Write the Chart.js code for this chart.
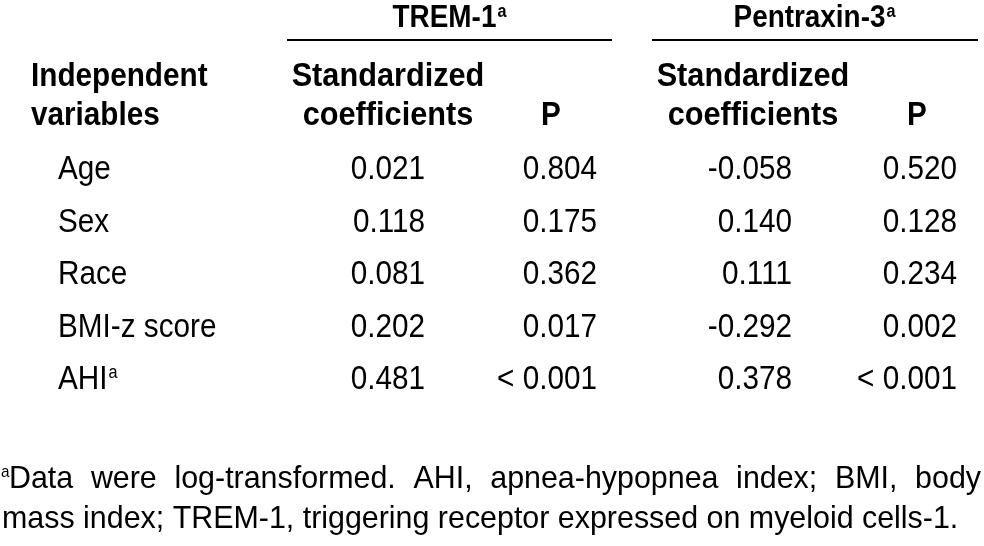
<!DOCTYPE html>
<html>
<head>
<meta charset="utf-8">
<script src="https://cdn.jsdelivr.net/npm/chart.js@4.4.1/dist/chart.umd.min.js"></script>
<style>
  html, body { margin: 0; padding: 0; background: #fff; }
  #tableChart { display: block; }
</style>
</head>
<body>
<canvas id="tableChart" width="984" height="546"></canvas>
<script>
// table data
const variables = ['Age', 'Sex', 'Race', 'BMI-z score', 'AHI'];
const variableNotes = ['', '', '', '', 'a'];
const tremCoef = [0.021, 0.118, 0.081, 0.202, 0.481];
const tremP = ['0.804', '0.175', '0.362', '0.017', '< 0.001'];
const ptxCoef = [-0.058, 0.140, 0.111, -0.292, 0.378];
const ptxP = ['0.520', '0.128', '0.234', '0.002', '< 0.001'];

const groupTitles = ['TREM-1', 'Pentraxin-3'];
const footLine1 = 'Data were log-transformed. AHI, apnea-hypopnea index; BMI, body';
const footLine2 = 'mass index; TREM-1, triggering receptor expressed on myeloid cells-1.';

// layout (pixels on the x scale, which runs 0..984)
const labelX = 58;
const colRight = [425, 597, 792, 957];
const FONT = '"Liberation Sans", Arial, sans-serif';
const SX = 0.9; // the source font is slightly condensed
const FOOT_SX = 0.95;

function txt(ctx, s, x, y, size, bold, align, sx) {
    ctx.save();
    ctx.font = (bold ? 'bold ' : '') + size + 'px ' + FONT;
    ctx.translate(x, y);
    ctx.scale(sx || SX, 1);
    ctx.textAlign = align || 'left';
    ctx.textBaseline = 'alphabetic';
    ctx.fillStyle = '#000';
    ctx.fillText(s, 0, 0);
    ctx.restore();
}

function width(ctx, s, size, bold, sx) {
    ctx.save();
    ctx.font = (bold ? 'bold ' : '') + size + 'px ' + FONT;
    const w = ctx.measureText(s).width * (sx || SX);
    ctx.restore();
    return w;
}

// text with a superscript "a", centered or left anchored
function txtSup(ctx, s, x, y, size, bold, supSize, rise, align) {
    const w = width(ctx, s, size, bold);
    const ws = width(ctx, 'a', supSize, bold);
    let x0 = x;
    if (align === 'center') x0 = x - (w + ws) / 2;
    txt(ctx, s, x0, y, size, bold, 'left');
    txt(ctx, 'a', x0 + w + 1, y - rise, supSize, bold, 'left');
}

const tablePlugin = {
    id: 'tableText',
    afterDraw(chart) {
        const ctx = chart.ctx;

        // group headers and rules
        txtSup(ctx, groupTitles[0], 449, 27, 31, true, 18, 10, 'center');
        txtSup(ctx, groupTitles[1], 814, 27, 31, true, 18, 10, 'center');
        ctx.save();
        ctx.strokeStyle = '#000';
        ctx.lineWidth = 2;
        ctx.beginPath();
        ctx.moveTo(287, 40); ctx.lineTo(612, 40);
        ctx.moveTo(652, 40); ctx.lineTo(978, 40);
        ctx.stroke();
        ctx.restore();

        // column headers
        txt(ctx, 'Independent', 31, 86, 33, true);
        txt(ctx, 'variables', 31, 125, 33, true);
        txt(ctx, 'Standardized', 388, 86, 33, true, 'center', 0.93);
        txt(ctx, 'coefficients', 388, 125, 33, true, 'center', 0.93);
        txt(ctx, 'P', 551, 125, 33, true, 'center');
        txt(ctx, 'Standardized', 753, 86, 33, true, 'center', 0.93);
        txt(ctx, 'coefficients', 753, 125, 33, true, 'center', 0.93);
        txt(ctx, 'P', 917, 125, 33, true, 'center');

        // cells, placed by the chart's own scales
        chart.data.datasets.forEach((ds, di) => {
            const meta = chart.getDatasetMeta(di);
            meta.data.forEach((pt, i) => {
                const raw = ds.data[i];
                if (ds.isLabel) {
                    if (variableNotes[i]) {
                        txtSup(ctx, raw.text, pt.x, pt.y, 33, false, 18, 11, 'left');
                    } else {
                        txt(ctx, raw.text, pt.x, pt.y, 33, false, 'left');
                    }
                } else {
                    txt(ctx, raw.text, pt.x, pt.y, 33, false, 'right');
                }
            });
        });

        // footnote, first line justified
        const fs = 32;
        const startX = 9;
        const endX = 981;
        const words = footLine1.split(' ');
        const ww = words.map(w => width(ctx, w, fs, false, FOOT_SX));
        const gap = (endX - startX - ww.reduce((a, b) => a + b, 0)) / (words.length - 1);
        txt(ctx, 'a', 1, 477, 17, false);
        let x = startX;
        words.forEach((w, i) => {
            txt(ctx, w, x, 488, fs, false, 'left', FOOT_SX);
            x += ww[i] + gap;
        });
        txt(ctx, footLine2, 2, 528, fs, false, 'left', FOOT_SX);
    }
};

function cells(values, col, fmt) {
    return values.map((v, i) => ({ x: col, y: variables[i], text: fmt ? fmt(v) : v }));
}

const fix3 = v => v.toFixed(3);

new Chart(document.getElementById('tableChart'), {
    type: 'scatter',
    data: {
        datasets: [
            { data: variables.map((v, i) => ({ x: labelX, y: v, text: v })), isLabel: true },
            { data: cells(tremCoef, colRight[0], fix3) },
            { data: cells(tremP, colRight[1]) },
            { data: cells(ptxCoef, colRight[2], fix3) },
            { data: cells(ptxP, colRight[3]) }
        ]
    },
    options: {
        responsive: false,
        animation: false,
        events: [],
        layout: { padding: { top: 179, bottom: 157, left: 0, right: 0 } },
        elements: { point: { radius: 0, hoverRadius: 0 } },
        plugins: { legend: { display: false }, tooltip: { enabled: false } },
        scales: {
            x: { type: 'linear', min: 0, max: 984, display: false },
            y: { type: 'category', labels: variables, offset: false, display: false }
        }
    },
    plugins: [tablePlugin]
});
</script>
</body>
</html>
